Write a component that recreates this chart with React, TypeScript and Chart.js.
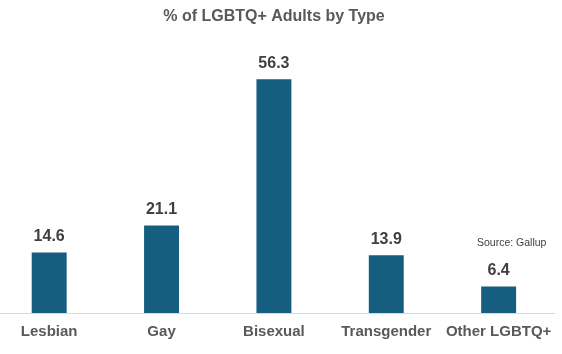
import React, { useEffect, useRef } from "react";
import { Chart, registerables } from "chart.js";

Chart.register(...registerables);

const categories = ["Lesbian", "Gay", "Bisexual", "Transgender", "Other LGBTQ+"];
const values = [14.6, 21.1, 56.3, 13.9, 6.4];
const titleText = "% of LGBTQ+ Adults by Type";
const sourceText = "Source: Gallup";

const FONT = "'Liberation Sans', Arial, sans-serif";
const OFFSET_X = -7;

const overlayPlugin = {
  id: "overlay",
  afterDatasetsDraw(chart: any) {
    const ctx = chart.ctx;
    ctx.save();
    const meta = chart.getDatasetMeta(0);
    ctx.font = `bold 16px ${FONT}`;
    ctx.fillStyle = "#404040";
    ctx.textAlign = "center";
    ctx.textBaseline = "middle";
    meta.data.forEach((bar: any, i: number) => {
      ctx.fillText(values[i].toFixed(1), bar.x, bar.y - 16);
    });
    ctx.font = `bold 16px ${FONT}`;
    ctx.fillStyle = "#595959";
    ctx.fillText(titleText, 274 - OFFSET_X, 17);
    ctx.font = `10.5px ${FONT}`;
    ctx.fillStyle = "#404040";
    ctx.textAlign = "left";
    ctx.fillText(sourceText, 477 - OFFSET_X, 243);
    ctx.restore();
  },
};

export default function App() {
  const ref = useRef<HTMLCanvasElement>(null);
  useEffect(() => {
    if (!ref.current) return;
    const chart = new Chart(ref.current, {
      type: "bar",
      data: {
        labels: categories,
        datasets: [
          {
            data: values,
            backgroundColor: "#165E80",
            barPercentage: 0.311,
            categoryPercentage: 1,
          },
        ],
      },
      options: {
        animation: false,
        responsive: false,
        layout: { padding: { top: 64, bottom: 3, left: 0, right: 6.5 } },
        plugins: {
          legend: { display: false },
          title: { display: false },
          tooltip: { enabled: false },
        },
        scales: {
          x: {
            offset: true,
            grid: { display: false, drawTicks: false },
            border: { display: true, color: "#d9d9d9", width: 1 },
            ticks: {
              padding: 10,
              color: "#595959",
              font: { family: FONT, size: 15, weight: "bold" },
            },
          },
          y: {
            display: false,
            min: 0,
            max: 60,
          },
        },
      },
      plugins: [overlayPlugin],
    });
    return () => chart.destroy();
  }, []);
  return (
    <div style={{ position: "absolute", left: OFFSET_X, top: 0, width: 569, height: 354 }}>
      <canvas ref={ref} width={569} height={354} />
    </div>
  );
}
